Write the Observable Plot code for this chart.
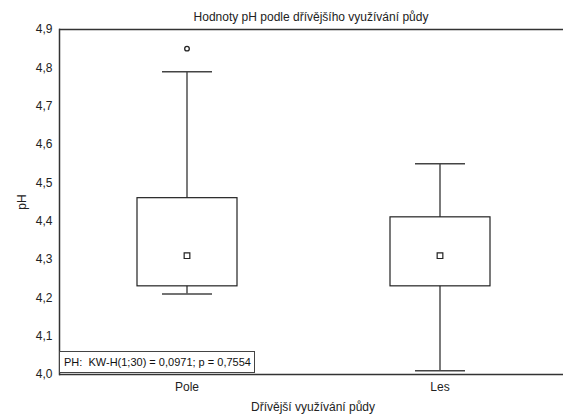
<!DOCTYPE html>
<html>
<head>
<meta charset="utf-8">
<script src="https://cdn.jsdelivr.net/npm/d3@7"></script>
<script src="https://cdn.jsdelivr.net/npm/@observablehq/plot@0.6"></script>
<style>
  html, body { margin: 0; padding: 0; background: #fff; overflow: hidden; }
  #wrap { position: relative; width: 563px; height: 420px; overflow: hidden; font-family: "Liberation Sans", Arial, sans-serif; }
  #note { position: absolute; left: 59px; top: 351px; border: 1px solid #444; background: #fff;
          font-size: 11px; color: #111; padding: 3px 3px 3px 4px; line-height: 14px; white-space: pre; }
</style>
</head>
<body>
<div id="wrap"></div>
<script>
const categories = ["Pole", "Les"];
const q1 = [4.23, 4.23];
const q3 = [4.46, 4.41];
const medians = [4.31, 4.31];
const whiskerLo = [4.21, 4.01];
const whiskerHi = [4.79, 4.55];
const outlierCat = ["Pole"];
const outlierVal = [4.85];
const yTicks = [4.0, 4.1, 4.2, 4.3, 4.4, 4.5, 4.6, 4.7, 4.8, 4.9];
const yDomain = [4.0, 4.9];
const titleText = "Hodnoty pH podle dřívějšího využívání půdy";
const xLabel = "Dřívější využívání půdy";
const yLabel = "pH";
const noteText = "PH:  KW-H(1;30) = 0,0971; p = 0,7554";

const boxes = categories.map((c, i) => ({cat: c, q1: q1[i], q3: q3[i], med: medians[i], lo: whiskerLo[i], hi: whiskerHi[i]}));
const outliers = outlierCat.map((c, i) => ({cat: c, v: outlierVal[i]}));

const fmt = d => d.toFixed(1).replace(".", ",");
const ink = "#222";

const chart = Plot.plot({
  width: 566,
  height: 420,
  marginTop: 29,
  marginBottom: 46,
  marginLeft: 59,
  marginRight: 0,
  style: {fontFamily: "Liberation Sans, Arial, sans-serif", fontSize: "12px", color: "#222", background: "#fff", maxWidth: "none"},
  x: {type: "band", domain: categories, padding: 0, label: xLabel, labelAnchor: "center", labelArrow: "none", labelOffset: 36, tickSize: 0, tickPadding: 8},
  y: {domain: yDomain, ticks: yTicks, tickFormat: fmt, label: yLabel, labelAnchor: "center", labelArrow: "none", labelOffset: 42, tickSize: 0, tickPadding: 7},
  marks: [
    Plot.frame({anchor: "left", stroke: "#333", strokeWidth: 1.5}),
    Plot.ruleY(yDomain, {stroke: "#333", strokeWidth: 1.5}),
    Plot.ruleX(boxes, {x: "cat", y1: "lo", y2: "hi", stroke: ink, strokeWidth: 1.2}),
    Plot.barY(boxes, {x: "cat", y1: "q1", y2: "q3", fill: "#fff", stroke: ink, strokeWidth: 1.2, insetLeft: 77, insetRight: 76}),
    Plot.tickY(boxes, {x: "cat", y: "lo", stroke: "#444", strokeWidth: 1.5, insetLeft: 102, insetRight: 101}),
    Plot.tickY(boxes, {x: "cat", y: "hi", stroke: "#444", strokeWidth: 1.5, insetLeft: 102, insetRight: 101}),
    Plot.dot(boxes, {x: "cat", y: "med", symbol: "square", r: 3.2, fill: "#fff", stroke: ink, strokeWidth: 1.2}),
    Plot.dot(outliers, {x: "cat", y: "v", symbol: "circle", r: 2.3, fill: "#fff", stroke: ink, strokeWidth: 1.3}),
    Plot.text([titleText], {frameAnchor: "top", dx: -2, dy: -17, text: d => d, fontSize: 12, fill: "#222"})
  ]
});

const wrap = document.getElementById("wrap");
wrap.appendChild(chart);
const note = document.createElement("div");
note.id = "note";
note.textContent = noteText;
wrap.appendChild(note);
</script>
</body>
</html>
